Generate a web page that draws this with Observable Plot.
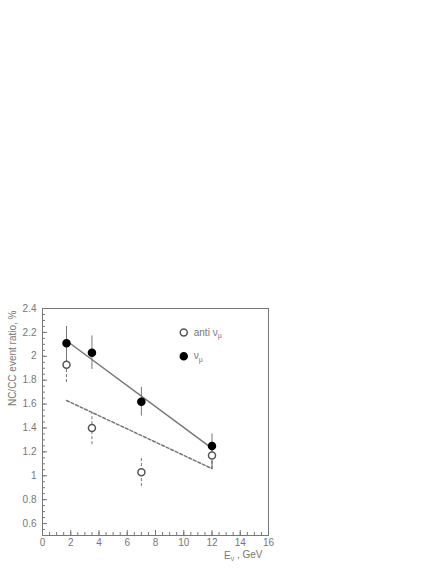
<!DOCTYPE html>
<html><head><meta charset="utf-8">
<script src="https://cdn.jsdelivr.net/npm/d3@7"></script>
<script src="https://cdn.jsdelivr.net/npm/@observablehq/plot@0.6"></script>
<style>body{margin:0;background:#fff}</style></head>
<body><div id="c"></div>
<script>
// data
const energy = [1.7, 3.5, 7, 12];
const nuRatio = [2.11, 2.03, 1.62, 1.25];
const nuErrLo = [1.97, 1.89, 1.50, 1.16];
const nuErrHi = [2.25, 2.17, 1.74, 1.35];
const antiRatio = [1.93, 1.40, 1.03, 1.17];
const antiErrLo = [1.78, 1.26, 0.91, 1.06];
const antiErrHi = [2.07, 1.53, 1.15, 1.27];
const nuFitX = [1.7, 12];
const nuFitY = [2.13, 1.23];
const antiFitX = [1.7, 12, 12];
const antiFitY = [1.63, 1.06, 1.13];
const xTicks = [0, 2, 4, 6, 8, 10, 12, 14, 16];
const yTicks = [0.6, 0.8, 1, 1.2, 1.4, 1.6, 1.8, 2, 2.2, 2.4];
const legendLabels = ["anti ν_μ", "ν_μ"];
const legendY = [2.2, 2.0];
const legendX = 10;

const nu = energy.map((x, i) => ({x, y: nuRatio[i], lo: nuErrLo[i], hi: nuErrHi[i]}));
const anti = energy.map((x, i) => ({x, y: antiRatio[i], lo: antiErrLo[i], hi: antiErrHi[i]}));
const nuFit = nuFitX.map((x, i) => ({x, y: nuFitY[i]}));
const antiFit = antiFitX.map((x, i) => ({x, y: antiFitY[i]}));
const xMinor = d3.range(0, 16.01, 0.5);
const yMinor = d3.range(0.5, 2.401, 0.05);

const grey = "#777";
const font = "'Liberation Sans', Arial, sans-serif";

const chart = Plot.plot({
  width: 445, height: 576,
  marginLeft: 42, marginRight: 177, marginTop: 308, marginBottom: 41,
  style: {fontFamily: font, fontSize: "10px", color: grey, background: "white"},
  x: {domain: [0, 16]},
  y: {domain: [0.5, 2.4]},
  marks: [
    Plot.frame({stroke: grey}),
    Plot.axisX(xMinor, {tickSize: -3, text: null, label: null, stroke: grey}),
    Plot.axisX(xTicks, {tickSize: -5, text: null, label: null, stroke: grey}),
    Plot.axisX(xTicks, {tickSize: 0, tickPadding: 3, tickFormat: d => String(d), fill: grey, label: null}),
    Plot.axisY(yMinor, {tickSize: -3, text: null, label: null, stroke: grey}),
    Plot.axisY(yTicks, {tickSize: -5, text: null, label: null, stroke: grey}),
    Plot.axisY(yTicks, {tickSize: 0, tickPadding: 6, tickFormat: d => String(+d.toFixed(1)), fill: grey, label: null}),
    Plot.text(["NC/CC event ratio, %"], {frameAnchor: "top-left", dx: -34, dy: 2, rotate: -90, textAnchor: "end", fill: grey, fontSize: 10}),
    Plot.text(["E_ν , GeV"], {frameAnchor: "bottom-right", dy: 23, dx: -6, textAnchor: "end", fill: grey, fontSize: 10}),
    Plot.ruleX(anti, {x: "x", y1: "lo", y2: "hi", stroke: grey, strokeDasharray: "3,2"}),
    Plot.line(antiFit, {x: "x", y: "y", stroke: grey, strokeDasharray: "3,2"}),
    Plot.line(nuFit, {x: "x", y: "y", stroke: grey}),
    Plot.ruleX(nu, {x: "x", y1: "lo", y2: "hi", stroke: grey}),
    Plot.dot(anti, {x: "x", y: "y", r: 3.5, fill: "white", stroke: "#555"}),
    Plot.dot(nu, {x: "x", y: "y", r: 3.5, fill: "black", stroke: "black"}),
    Plot.dot([legendY[0]], {x: legendX, y: d => d, r: 3.5, fill: "white", stroke: "#555"}),
    Plot.dot([legendY[1]], {x: legendX, y: d => d, r: 3.5, fill: "black", stroke: "black"}),
    Plot.text(legendLabels, {x: legendX, y: (d, i) => legendY[i], dx: 10, textAnchor: "start", fill: grey, fontSize: 10})
  ]
});
// render subscripts (text after "_") as tspans
d3.select(chart).selectAll("text").each(function() {
  const t = this.textContent;
  if (t.includes("_")) {
    const m = t.match(/^(.*?)_(.)(.*)$/);
    const el = d3.select(this);
    el.text(null);
    el.append("tspan").text(m[1]);
    el.append("tspan").attr("font-size", 7).attr("dy", "0.3em").text(m[2]);
    if (m[3]) el.append("tspan").attr("dy", "-0.3em").text(m[3]);
  }
});
document.getElementById("c").appendChild(chart);
</script>
</body></html>
